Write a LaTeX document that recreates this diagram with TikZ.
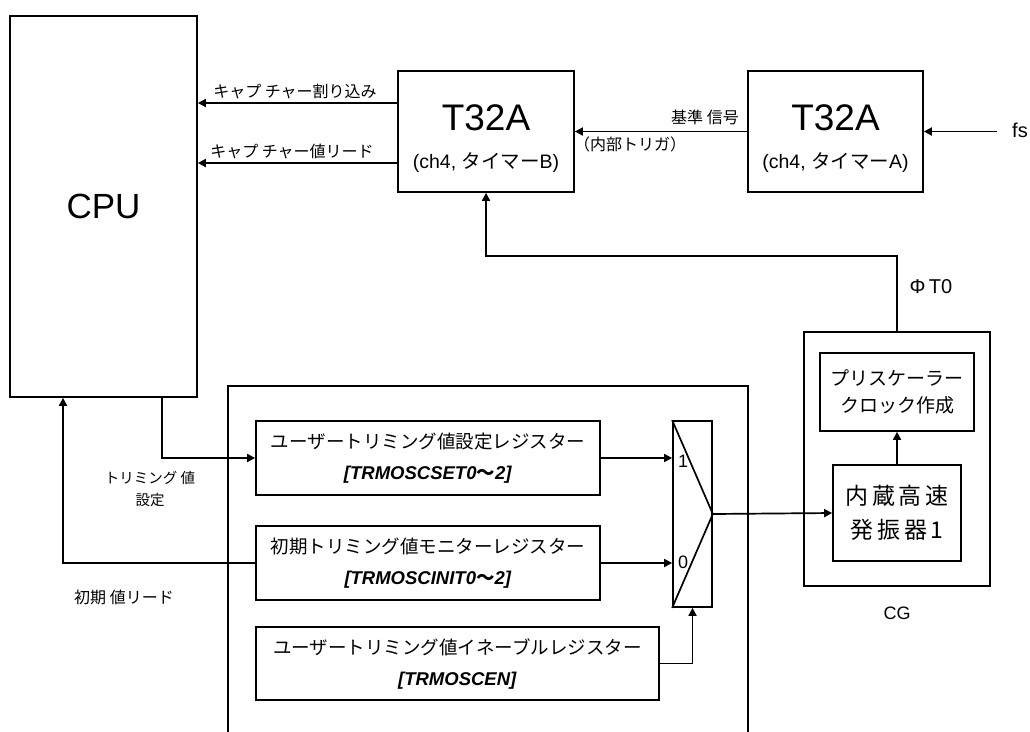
\documentclass[tikz,border=0pt]{standalone}
\usepackage{fontspec}
\setmainfont{Liberation Sans}
\newfontfamily\jp{Noto Sans CJK JP}
\usetikzlibrary{arrows.meta,calc}
\begin{document}
\begin{tikzpicture}[x=1pt,y=-1pt,
  line width=1.7pt,
  box/.style={draw,line width=1.7pt,inner sep=0pt,align=center},
  arr/.style={-{Triangle[length=8pt,width=8pt]}},
  lbl/.style={inner sep=0pt,font=\fontsize{16}{18}\selectfont\jp},
  reg/.style={box,font=\fontsize{18.5}{31}\selectfont}]
\useasboundingbox (0,0) rectangle (1030,731);
% CPU
\node[box,minimum width=187pt,minimum height=381pt,font=\fontsize{35}{40}\selectfont] (cpu) at (103.5,206.5) {CPU};
% timers
\node[box,minimum width=176pt,minimum height=121pt,font=\fontsize{19.5}{23}\selectfont] (t32b) at (486,131.5)
  {{\fontsize{37}{44}\selectfont\rule{0pt}{41pt}T32A}\\[15pt](ch4, {\jp タイマー}B)};
\node[box,minimum width=175pt,minimum height=121pt,font=\fontsize{19.5}{23}\selectfont] (t32a) at (835.5,131.5)
  {{\fontsize{37}{44}\selectfont\rule{0pt}{41pt}T32A}\\[15pt](ch4, {\jp タイマー}A)};
\draw[arr] ([yshift=28.5pt]t32b.west) coordinate (c1) -- (c1 -| cpu.east);
\draw[arr] ([yshift=-31.5pt]t32b.west) coordinate (c2) -- (c2 -| cpu.east);
\node[lbl] (l1) at (295,92) {キャプ チャー割り込み};
\node[lbl] (l2) at (292,151) {キャプ チャー値リード};
\draw[arr] (t32a.west) -- (t32b.east);
\node[lbl] (l3) at (705,117) {基準 信号};
\node[lbl] (l4) at (630,144) {（内部トリガ）};
\coordinate (fsin) at (997,131.5);
\node[inner sep=0pt,font=\fontsize{20}{22}\selectfont] (fs) at (1020,130) {fs};
\draw[arr] (fsin) -- (t32a.east);
% CG
\node[box,minimum width=186pt,minimum height=254pt] (cg) at (897,459) {};
\node[box,minimum width=154pt,minimum height=78pt,font=\fontsize{19}{27}\selectfont\jp] (pres) at (897,392) {プリスケーラー\\クロック作成};
\node[box,minimum width=128pt,minimum height=96pt,font=\fontsize{23}{34}\selectfont\jp] (osc) at (897,513) {内\,蔵\,高\,速\\発\,振\,器\,1};
\draw[arr] (osc.north) -- (pres.south);
\node[inner sep=0pt,font=\fontsize{18}{20}\selectfont] (cgl) at (897,613) {CG};
\draw[arr] (cg.north) -- ++(0,-75) -| (t32b.south);
\node[inner sep=0pt,font=\fontsize{20}{22}\selectfont] (phi) at (931,287) {Φ\,T0};
% trimming block
\draw (228,733) -- (228,386) -- (748,386) -- (748,733);
\node[reg,minimum width=344pt,minimum height=74pt] (reg1) at (428,458)
  {{\jp ユーザートリミング値設定レジスター}\\\textbf{\textit{[TRMOSCSET0{\jp ～}2]}}};
\node[reg,minimum width=344pt,minimum height=74pt] (reg2) at (428,563)
  {{\jp 初期トリミング値モニターレジスター}\\\textbf{\textit{[TRMOSCINIT0{\jp ～}2]}}};
\node[reg,minimum width=403pt,minimum height=73pt] (reg3) at (457.5,663.5)
  {{\jp ユーザートリミング値イネーブルレジスター}\\\textbf{\textit{[TRMOSCEN]}}};
\node[box,minimum width=39pt,minimum height=186pt] (mux) at (692.5,514) {};
\draw (mux.north west) -- (mux.east) -- (mux.south west);
\node[inner sep=0pt,font=\fontsize{18}{20}\selectfont] (m1) at (683,461) {1};
\node[inner sep=0pt,font=\fontsize{18}{20}\selectfont] (m0) at (683,562) {0};
\draw[arr] (reg1.east) -- (reg1.east -| mux.west);
\draw[arr] (reg2.east) -- (reg2.east -| mux.west);
\draw[arr] (reg3.east) -| (mux.south);
\draw[arr] (mux.east) -- (osc.west);
% CPU links
\draw[arr] ([xshift=58.5pt]cpu.south) |- (reg1.west);
\draw[arr] (reg2.west) -| ([xshift=-40.5pt]cpu.south);
\node[lbl,align=center,font=\fontsize{14.5}{22}\selectfont\jp] (l5) at (150,489) {トリミング 値\\設定};
\node[lbl] (l6) at (124,597) {初期 値リード};
\end{tikzpicture}
\end{document}
